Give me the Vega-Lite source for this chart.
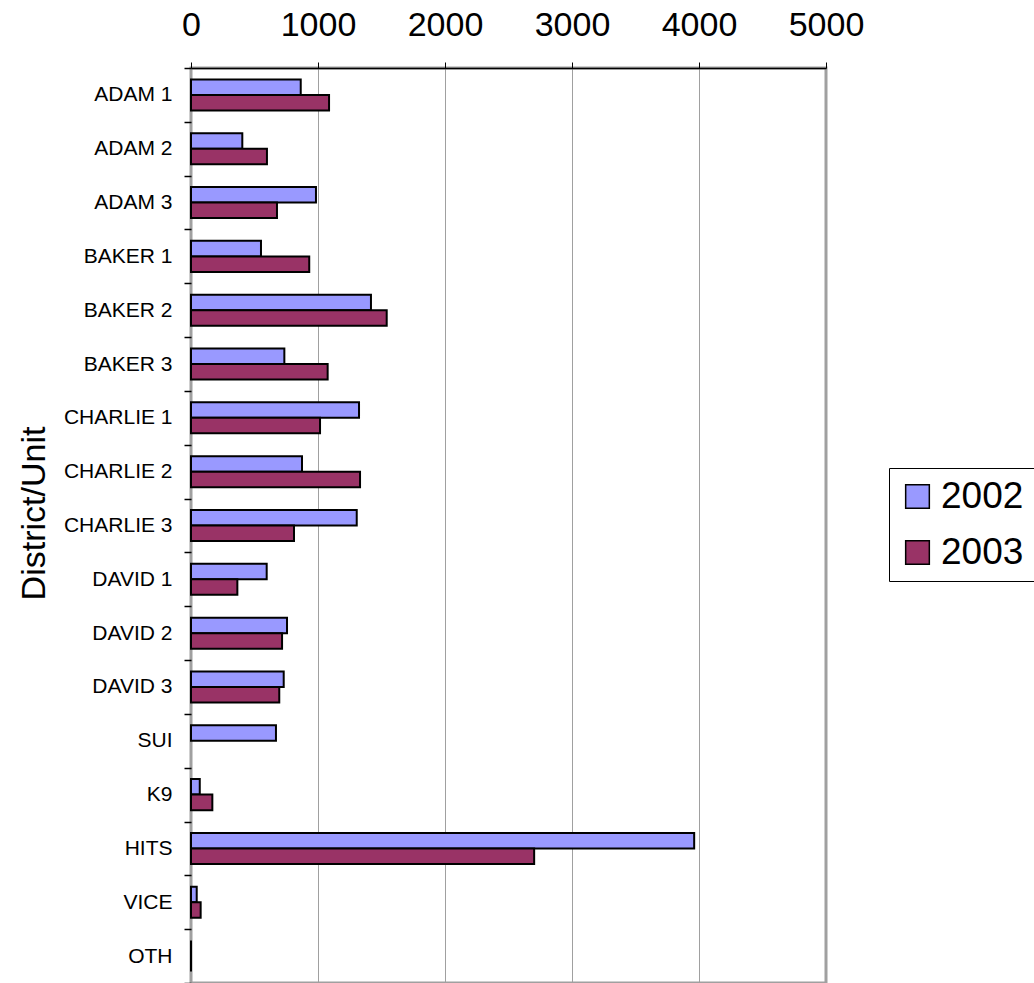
{
  "$schema": "https://vega.github.io/schema/vega-lite/v6.json",
  "autosize": {"type": "none"},
  "width": 635,
  "height": 915,
  "padding": {"left": 191, "top": 68, "right": 208, "bottom": 0},
  "background": "white",
  "config": {
    "font": "Liberation Sans",
    "view": {"stroke": "#a0a0a0", "strokeWidth": 3}
  },
  "data": {
    "values": [
      {"unit": "ADAM 1", "year": "2002", "count": 864},
      {"unit": "ADAM 1", "year": "2003", "count": 1087},
      {"unit": "ADAM 2", "year": "2002", "count": 404},
      {"unit": "ADAM 2", "year": "2003", "count": 598},
      {"unit": "ADAM 3", "year": "2002", "count": 984},
      {"unit": "ADAM 3", "year": "2003", "count": 677},
      {"unit": "BAKER 1", "year": "2002", "count": 551},
      {"unit": "BAKER 1", "year": "2003", "count": 931},
      {"unit": "BAKER 2", "year": "2002", "count": 1417},
      {"unit": "BAKER 2", "year": "2003", "count": 1541},
      {"unit": "BAKER 3", "year": "2002", "count": 735},
      {"unit": "BAKER 3", "year": "2003", "count": 1076},
      {"unit": "CHARLIE 1", "year": "2002", "count": 1323},
      {"unit": "CHARLIE 1", "year": "2003", "count": 1016},
      {"unit": "CHARLIE 2", "year": "2002", "count": 874},
      {"unit": "CHARLIE 2", "year": "2003", "count": 1331},
      {"unit": "CHARLIE 3", "year": "2002", "count": 1305},
      {"unit": "CHARLIE 3", "year": "2003", "count": 811},
      {"unit": "DAVID 1", "year": "2002", "count": 596},
      {"unit": "DAVID 1", "year": "2003", "count": 365},
      {"unit": "DAVID 2", "year": "2002", "count": 756},
      {"unit": "DAVID 2", "year": "2003", "count": 717},
      {"unit": "DAVID 3", "year": "2002", "count": 730},
      {"unit": "DAVID 3", "year": "2003", "count": 695},
      {"unit": "SUI", "year": "2002", "count": 669},
      {"unit": "K9", "year": "2002", "count": 69},
      {"unit": "K9", "year": "2003", "count": 168},
      {"unit": "HITS", "year": "2002", "count": 3962},
      {"unit": "HITS", "year": "2003", "count": 2702},
      {"unit": "VICE", "year": "2002", "count": 45},
      {"unit": "VICE", "year": "2003", "count": 76},
      {"unit": "OTH", "year": "2002", "count": 0},
      {"unit": "OTH", "year": "2003", "count": 0}
    ]
  },
  "mark": {"type": "bar", "stroke": "black", "strokeWidth": 2},
  "encoding": {
    "y": {
      "field": "unit",
      "type": "nominal",
      "sort": null,
      "scale": {"paddingInner": 0, "paddingOuter": 0},
      "axis": {
        "title": "District/Unit",
        "titleFontSize": 34,
        "titleFontWeight": "normal",
        "titleColor": "black",
        "titlePadding": 12,
        "titleY": 445,
        "labelFontSize": 21,
        "labelColor": "black",
        "labelPadding": 12,
        "tickSize": 7,
        "tickColor": "black",
        "tickWidth": 1.5,
        "tickBand": "extent",
        "domain": false
      }
    },
    "yOffset": {
      "field": "year",
      "type": "nominal",
      "sort": ["2002", "2003"],
      "scale": {"paddingInner": 0, "paddingOuter": 0.735}
    },
    "x": {
      "field": "count",
      "type": "quantitative",
      "scale": {"domain": [0, 5000], "nice": false},
      "axis": {
        "orient": "top",
        "title": null,
        "values": [0, 1000, 2000, 3000, 4000, 5000],
        "format": "d",
        "labelFontSize": 34,
        "labelColor": "black",
        "labelPadding": 20,
        "labelFlush": false,
        "tickSize": 6,
        "tickColor": "black",
        "tickWidth": 1,
        "domainColor": "black",
        "domainWidth": 1.5,
        "grid": true,
        "gridColor": "#a0a0a0",
        "gridWidth": 1
      }
    },
    "color": {
      "field": "year",
      "type": "nominal",
      "scale": {"domain": ["2002", "2003"], "range": ["#9999FF", "#993366"]},
      "legend": {
        "title": null,
        "orient": "none",
        "legendX": 698,
        "legendY": 400,
        "padding": 10,
        "strokeColor": "black",
        "fillColor": "white",
        "symbolType": "square",
        "symbolSize": 560,
        "symbolStrokeColor": "black",
        "symbolStrokeWidth": 1.5,
        "symbolOpacity": 1,
        "labelFontSize": 37,
        "labelColor": "black",
        "labelOffset": 5,
        "rowPadding": 18
      }
    }
  }
}
